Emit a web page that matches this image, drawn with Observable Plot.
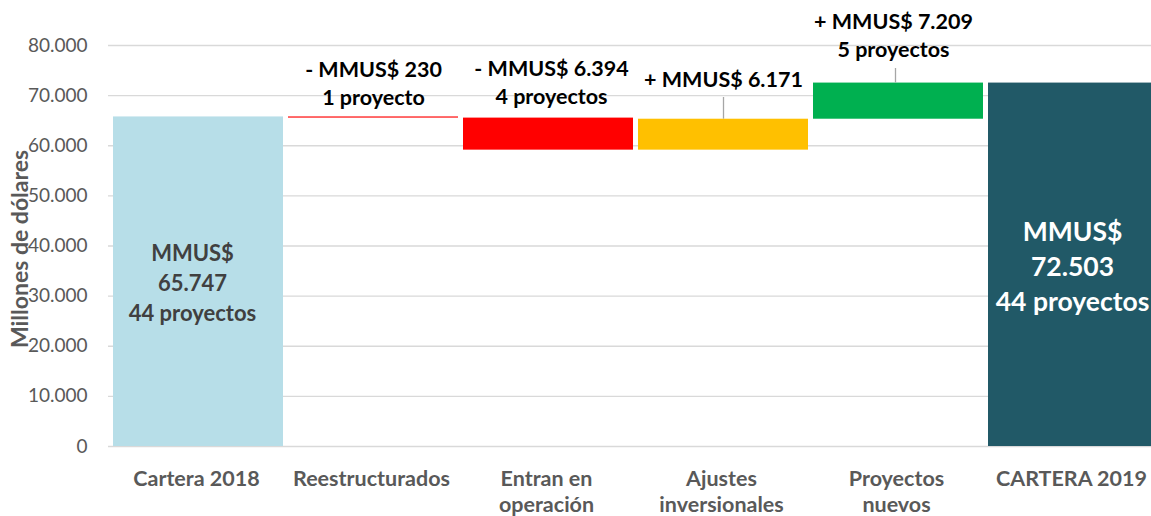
<!DOCTYPE html>
<html><head><meta charset="utf-8">
<script src="https://cdn.jsdelivr.net/npm/d3@7"></script>
<script src="https://cdn.jsdelivr.net/npm/@observablehq/plot@0.6"></script>
<style>html,body{margin:0;padding:0;background:#fff;overflow:hidden;}</style>
</head><body><div id="chart"></div>
<script>
const categories = ["Cartera 2018","Reestructurados","Entran en operación","Ajustes inversionales","Proyectos nuevos","CARTERA 2019"];
const axisLabels = ["Cartera 2018","Reestructurados","Entran en\noperación","Ajustes\ninversionales","Proyectos\nnuevos","CARTERA 2019"];
const barStart = [0, 65747, 65517, 59123, 65294, 0];
const barEnd = [65747, 65517, 59123, 65294, 72503, 72503];
const changes = [null, -230, -6394, 6171, 7209, null];
const projectCounts = [44, 1, 4, null, 5, 44];
const yTicks = [0, 10000, 20000, 30000, 40000, 50000, 60000, 70000, 80000];
const barColors = ["#b7dee8","#ff0000","#ff0000","#ffc000","#00b050","#215967"];

const loc = d3.formatLocale({decimal: ",", thousands: ".", grouping: [3], currency: ["$", ""]});
const fmt = loc.format(",");

const rows = categories.map((c, i) => ({cat: c, start: barStart[i], end: barEnd[i], top: Math.max(barStart[i], barEnd[i])}));
const changeText = i => (changes[i] < 0 ? "- " : "+ ") + "MMUS$ " + fmt(Math.abs(changes[i])) +
  (projectCounts[i] == null ? "" : "\n" + projectCounts[i] + (projectCounts[i] === 1 ? " proyecto" : " proyectos"));
const totalText = i => "MMUS$\n" + fmt(barEnd[i]) + "\n" + projectCounts[i] + " proyectos";

const font = "Lato, 'Open Sans', sans-serif";
const boldText = {fontWeight: "bold", fontSize: 21.5, fill: "#000", lineHeight: 1.3, lineAnchor: "middle", textAnchor: "middle"};
const yMax = 80000;

const chart = Plot.plot({
  width: 1151,
  height: 516,
  marginLeft: 108,
  marginRight: 0,
  marginTop: 45,
  marginBottom: 70,
  style: {fontFamily: font, fontSize: "19px", color: "#595959", background: "#fff"},
  x: {domain: categories, range: [113, 1158], paddingInner: 0.0286, paddingOuter: 0, axis: null},
  y: {domain: [0, yMax], axis: null},
  color: {domain: categories, range: barColors},
  marks: [
    Plot.gridY(yTicks, {stroke: "#d9d9d9", strokeOpacity: 1, strokeWidth: 1.3}),
    Plot.axisY(yTicks, {tickSize: 0, tickPadding: 21, tickFormat: fmt, fill: "#595959", fontSize: 19, label: null}),
    Plot.barY(rows, {x: "cat", y1: "start", y2: "end", fill: "cat"}),
    // x category labels
    Plot.text(categories, {x: d => d, y: () => 0, text: (d, i) => axisLabels[i], dy: 21, dx: -2, lineAnchor: "top",
      fontWeight: "bold", fontSize: 21.5, fill: "#595959", lineHeight: 1.21}),
    // y axis title
    Plot.text([0], {frameAnchor: "left", text: () => "Millones de dólares", rotate: -90, dx: -88, dy: 3,
      fontWeight: "bold", fontSize: 23, fill: "#595959", textAnchor: "middle"}),
    // inside totals
    Plot.text([0], {x: () => categories[0], y: () => barEnd[0] / 2, text: () => totalText(0), dx: -6,
      fontWeight: "bold", fontSize: 22, fill: "#404040", lineHeight: 1.36, lineAnchor: "middle"}),
    Plot.text([5], {x: () => categories[5], y: () => barEnd[5] / 2, text: () => totalText(5), dx: -1,
      fontWeight: "bold", fontSize: 26.5, fill: "#fff", lineHeight: 1.32, lineAnchor: "middle"}),
    // change annotations
    Plot.text([1], {x: i => categories[i], y: i => rows[i].top, text: i => changeText(i), dy: -35, ...boldText}),
    Plot.text([2], {x: i => categories[i], y: i => rows[i].top, text: i => changeText(i), dy: -37, dx: 3, ...boldText}),
    Plot.text([3], {x: i => categories[i], y: i => rows[i].top, text: i => changeText(i), dy: -41, ...boldText}),
    Plot.text([4], {x: i => categories[i], y: i => rows[i].top, text: i => changeText(i), dy: -49, dx: -5, ...boldText}),
    // leader lines (from label down to bar top)
    Plot.ruleX([3], {x: i => categories[i], y1: () => yMax, y2: i => rows[i].top, insetTop: 52, stroke: "#a6a6a6", strokeWidth: 1.3}),
    Plot.link([4], {x1: i => categories[i], x2: i => categories[i], y1: i => rows[i].top, y2: i => rows[i].top, dx: 0,
      stroke: "none"}),
    Plot.ruleX([4], {x: i => categories[i], y1: () => yMax, y2: i => rows[i].top, insetTop: 23, dx: -3, stroke: "#a6a6a6", strokeWidth: 1.3})
  ]
});
document.getElementById("chart").appendChild(chart);
</script>
</body></html>
